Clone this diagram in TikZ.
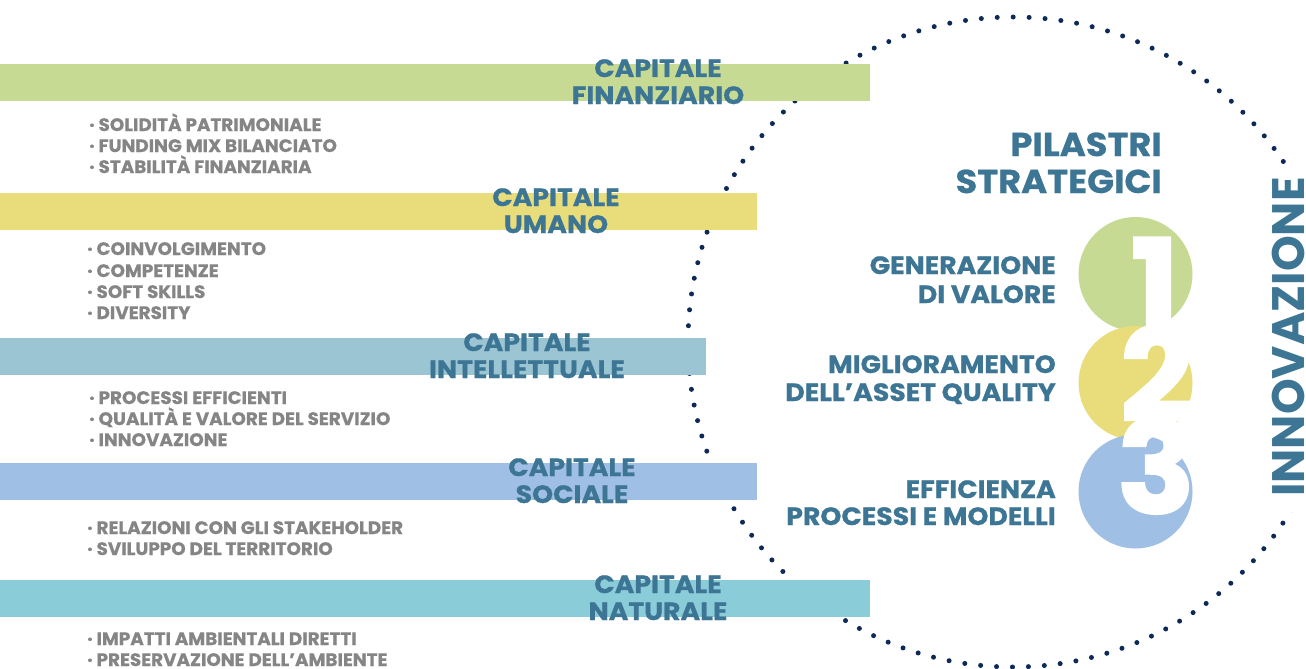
\documentclass[tikz,border=0pt]{standalone}
\usepackage{fontspec}
\setmainfont{Poppins}
\newfontfamily\hvy{Poppins}[FakeStretch=1.07, BoldFeatures={FakeBold=0.7}]
\newfontfamily\hvl{Poppins}[FakeStretch=1.02, BoldFeatures={FakeBold=0.6}]
\newfontfamily\hvd{Poppins}[BoldFeatures={FakeBold=2}]
\definecolor{cgreen}{HTML}{C6DA93}
\definecolor{cyellow}{HTML}{E9DD7B}
\definecolor{cgblue}{HTML}{9BC5D3}
\definecolor{cblue}{HTML}{A0BFE4}
\definecolor{ccyan}{HTML}{8BCCD9}
\definecolor{ctitle}{HTML}{3D7594}
\definecolor{cgray}{HTML}{858585}
\definecolor{cnavy}{HTML}{0D2A57}
\tikzset{
  titlef/.style={text=ctitle, font=\hvy\bfseries\fontsize{25}{27}\selectfont, inner sep=0pt, anchor=base},
  listf/.style={text=cgray, font=\hvl\bfseries\fontsize{18}{21}\selectfont, inner sep=0pt, anchor=base west},
  pillf/.style={text=ctitle, font=\hvy\bfseries\fontsize{25}{27}\selectfont, inner sep=0pt, anchor=base east},
  headf/.style={text=ctitle, font=\hvy\bfseries\fontsize{33}{36}\selectfont, inner sep=0pt, anchor=base east},
  digitf/.style={text=white, font=\hvd\bfseries\fontsize{128}{128}\selectfont, inner sep=0pt, anchor=base},
  dotring/.style={draw=cnavy, line width=5pt, line cap=round, dash pattern=on 0pt off 15.95pt},
}
\begin{document}
\begin{tikzpicture}[x=1pt,y=-1pt]
\fill[white] (0,0) rectangle (1306,669);
\useasboundingbox (0,0) rectangle (1306,669);
% dotted ring
\draw[dotring] (1013,342) circle (325pt);
\fill[white] (1266,166) rectangle (1306,512);
% bars
\fill[cgreen] (0,64) rectangle (870,101);
\fill[cyellow] (0,193) rectangle (757,230);
\fill[cgblue] (0,338) rectangle (706,375);
\fill[cblue] (0,463) rectangle (757,500);
\fill[ccyan] (0,580) rectangle (870,617);
% bar titles
\node[titlef] (t1a) at (658,77) {CAPITALE};
\node[titlef] (t1b) at (658,104) {FINANZIARIO};
\node[titlef] (t2a) at (556,206) {CAPITALE};
\node[titlef] (t2b) at (556,233) {UMANO};
\node[titlef] (t3a) at (527,351) {CAPITALE};
\node[titlef] (t3b) at (527,378) {INTELLETTUALE};
\node[titlef] (t4a) at (572,476) {CAPITALE};
\node[titlef] (t4b) at (572,503) {SOCIALE};
\node[titlef] (t5a) at (658,593) {CAPITALE};
\node[titlef] (t5b) at (658,620) {NATURALE};
% lists
\node[listf] (l1a) at (89,131) {· SOLIDITÀ PATRIMONIALE};
\node[listf] (l1b) at (89,152) {· FUNDING MIX BILANCIATO};
\node[listf] (l1c) at (89,173) {· STABILITÀ FINANZIARIA};
\node[listf] (l2a) at (87,255) {· COINVOLGIMENTO};
\node[listf] (l2b) at (87,277) {· COMPETENZE};
\node[listf] (l2c) at (87,298) {· SOFT SKILLS};
\node[listf] (l2d) at (87,319) {· DIVERSITY};
\node[listf] (l3a) at (89,404) {· PROCESSI EFFICIENTI};
\node[listf] (l3b) at (89,425) {· QUALITÀ E VALORE DEL SERVIZIO};
\node[listf] (l3c) at (89,446) {· INNOVAZIONE};
\node[listf] (l4a) at (87,534) {· RELAZIONI CON GLI STAKEHOLDER};
\node[listf] (l4b) at (87,555) {· SVILUPPO DEL TERRITORIO};
\node[listf] (l5a) at (87,645) {· IMPATTI AMBIENTALI DIRETTI};
\node[listf] (l5b) at (87,666) {· PRESERVAZIONE DELL’AMBIENTE};
% right side
\node[headf] (h1) at (1162,156) {PILASTRI};
\node[headf] (h2) at (1162,193) {STRATEGICI};
\node[pillf] (p1a) at (1056,274) {GENERAZIONE};
\node[pillf] (p1b) at (1056,303) {DI VALORE};
\node[pillf] (p2a) at (1056,373) {MIGLIORAMENTO};
\node[pillf] (p2b) at (1056,401) {DELL’ASSET QUALITY};
\node[pillf] (p3a) at (1056,498) {EFFICIENZA};
\node[pillf] (p3b) at (1056,525) {PROCESSI E MODELLI};
% circles
\fill[cgreen] (1135.5,274) circle (57pt);
\fill[cyellow] (1135.5,383) circle (57pt);
\fill[cblue] (1135.5,491.5) circle (57pt);
\node[digitf] (d1) at (1155,331) {1};
\node[digitf] (d2) at (1157,421) {2};
\node[digitf] (d3) at (1156,513) {3};
% vertical label
\node[text=ctitle, font=\bfseries\fontsize{45.5}{45.5}\selectfont, inner sep=0pt, anchor=base, rotate=90] (inn) at (1304,337) {INNOVAZIONE};
\end{tikzpicture}
\end{document}
